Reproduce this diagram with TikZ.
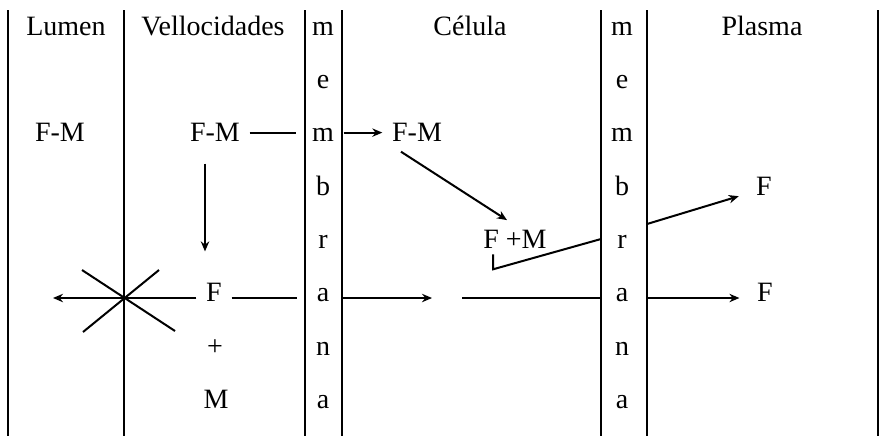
\documentclass[tikz,border=0pt]{standalone}
\usepackage{fontspec}
\setmainfont{Liberation Serif}
\usetikzlibrary{arrows.meta}
\tikzset{
  lbl/.style={inner sep=4.7pt, text height=9.3pt, text depth=0pt},
  wall/.style={line width=0.8pt},
  flow/.style={line width=1pt, >={Stealth[length=5pt,width=4.2pt]}}
}

\begin{document}
\begin{tikzpicture}[x=0.5pt, y=-0.5pt, font=\fontsize{14}{16}\selectfont]
  \useasboundingbox (0,0) rectangle (882,436);

  % compartment walls
  \foreach \x in {8,124,305,342,601,647,878}{
    \draw[wall] (\x,10) -- (\x,436);
  }

  % headers
  \node[lbl] (lumen)  at (66,26)  {Lumen};
  \node[lbl] (vell)   at (213,26) {Vellocidades};
  \node[lbl] (celula) at (470,26) {Célula};
  \node[lbl] (plasma) at (762,26) {Plasma};

  % membrane letters
  \foreach \l [count=\i] in {m,e,m,b,r,a,n,a}{
    \node[lbl] (ma\i) at (323,{26+53.3*(\i-1)}) {\l};
    \node[lbl] (mb\i) at (622,{26+53.3*(\i-1)}) {\l};
  }

  % species
  \node[lbl] (lfm)   at (60,132.6)  {F-M};
  \node[lbl] (vfm)   at (215,132.6) {F-M};
  \node[lbl] (cfm)   at (417,132.6) {F-M};
  \node[lbl] (cfpm)  at (515,239.2) {F +M};
  \node[lbl] (pf1)   at (764,185.9) {F};
  \node[lbl] (vf)    at (214,292.5) {F};
  \node[lbl] (vplus) at (215,345.8) {+};
  \node[lbl] (vm)    at (216,399.1) {M};
  \node[lbl] (pf2)   at (765,292.5) {F};

  % free ends of the lower row and wall crossings
  \coordinate (block)  at (124,298);
  \coordinate (away)   at (53,298);
  \coordinate (wall1)  at (297,298);
  \coordinate (wall1r) at (342,298);
  \coordinate (stop)   at (432,298);
  \coordinate (resume) at (462,298);
  \coordinate (wall2)  at (601,298);
  \coordinate (wall2r) at (647,298);
  \coordinate (xin)    at (601,239);
  \coordinate (xout)   at (647,224);

  % upper route
  \draw[flow, shorten >=3.4pt] (vfm.east) -- (ma3.west);
  \draw[flow,->] (ma3.east) -- (cfm.west);
  \draw[flow,->] ([xshift=-8pt]cfm.south) -- ([xshift=-4pt]cfpm.north);
  \draw[flow] ([xshift=-11pt,yshift=2pt]cfpm.south) -- ++(0,15) -- (xin);
  \draw[flow,->, shorten >=4pt] (xout) -- ([yshift=-4pt]pf1.west);
  \draw[flow,->, shorten <=6pt, shorten >=11pt]
    ([xshift=-5pt]vfm.south) -- ([xshift=-5pt]vfm.south |- vf.north);

  % lower route
  \draw[flow,->] (vf.west |- block) -- (away);
  \draw[flow] (vf.east |- block) -- (wall1);
  \draw[flow,->] (wall1r) -- (stop);
  \draw[flow] (resume) -- (wall2);
  \draw[flow,->, shorten >=4pt] (wall2r) -- (pf2.west |- wall2r);

  % blocked exit
  \begin{scope}[shift={(block)}]
    \draw[flow] (-42,-28) -- (51,33);
    \draw[flow] (35,-28) -- (-41,34);
  \end{scope}
\end{tikzpicture}
\end{document}
